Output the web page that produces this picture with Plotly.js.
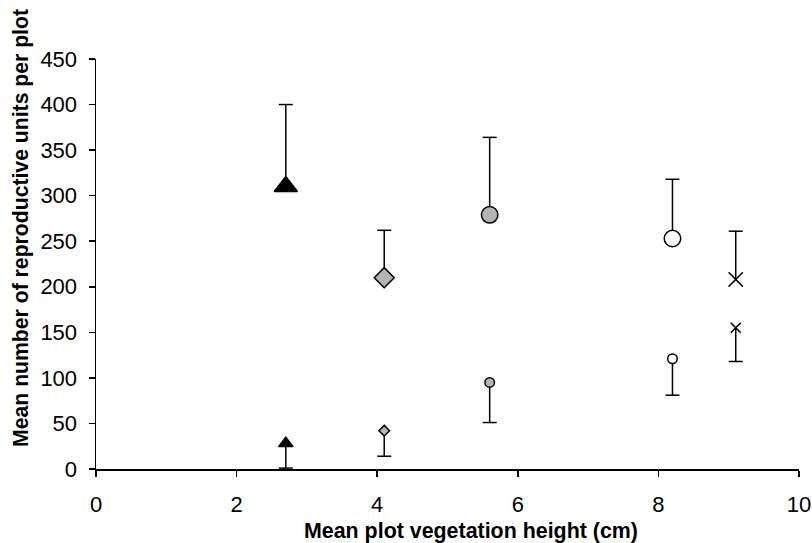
<!DOCTYPE html>
<html>
<head>
<meta charset="utf-8">
<script src="https://cdn.plot.ly/plotly-3.0.1.min.js"></script>
<style>html,body{margin:0;padding:0;background:#fff;}#chart{width:812px;height:543px;}</style>
</head>
<body>
<div id="chart"></div>
<script>
// Mean plot vegetation height (cm) for the five plot types
var heights = [2.7, 4.1, 5.6, 8.2, 9.1];
// Large markers (upper group): means and upper error
var upperMeans = [310, 210, 279, 253, 208];
var upperErr = [90, 52, 85, 65, 53];
// Small markers (lower group): means and lower error
var lowerMeans = [28, 42, 95, 121, 155];
var lowerErr = [27, 28, 44, 40, 37];
// x tick labels / y tick labels
var xTicks = [0, 2, 4, 6, 8, 10];
var yTicks = [0, 50, 100, 150, 200, 250, 300, 350, 400, 450];

var symbols = ['triangle-up', 'diamond', 'circle', 'circle', 'x-thin-open'];
var gray = '#b4b4b6';
var fills = ['#000000', gray, gray, '#ffffff', '#000000'];
var bigSizes = [20, 15.4, 16.5, 16.5, 14.3];
var smallSizes = [12.5, 8.2, 9.5, 9.5, 10];

var upperCaps = upperMeans.map(function (v, i) { return v + upperErr[i]; });
var lowerCaps = lowerMeans.map(function (v, i) { return v - lowerErr[i]; });

var barStyle = {type: 'data', symmetric: false, width: 0, thickness: 1.5, color: '#000'};

var traces = [
  {
    x: heights, y: upperMeans, type: 'scatter', mode: 'markers', name: 'upper',
    error_y: Object.assign({}, barStyle, {array: upperErr, arrayminus: heights.map(function () { return 0; })}),
    marker: {symbol: symbols, color: fills, size: bigSizes, opacity: 1, line: {color: '#000', width: 1.5}},
    cliponaxis: false, hoverinfo: 'x+y'
  },
  {
    x: heights, y: lowerMeans, type: 'scatter', mode: 'markers', name: 'lower',
    error_y: Object.assign({}, barStyle, {array: heights.map(function () { return 0; }), arrayminus: lowerErr}),
    marker: {symbol: symbols, color: fills, size: smallSizes, opacity: 1, line: {color: '#000', width: 1.5}},
    cliponaxis: false, hoverinfo: 'x+y'
  },
  {
    x: heights.concat(heights), y: upperCaps.concat(lowerCaps), type: 'scatter', mode: 'markers',
    name: 'caps', hoverinfo: 'skip', cliponaxis: false,
    marker: {symbol: 'line-ew-open', size: 10, opacity: 1, color: '#000', line: {color: '#000', width: 1.5}}
  }
];

var font = 'Liberation Sans, Arial, Helvetica, sans-serif';
var layout = {
  width: 812, height: 543,
  margin: {l: 96, r: 13, t: 59, b: 74, pad: 0},
  paper_bgcolor: '#fff', plot_bgcolor: '#fff',
  showlegend: false,
  font: {family: font, size: 22, color: '#000'},
  xaxis: {
    range: [0, 10], tickvals: xTicks, ticktext: xTicks.map(String),
    ticks: 'outside', ticklen: 6, tickwidth: 1.5, tickcolor: '#000',
    showline: true, linecolor: '#000', linewidth: 1.5,
    showgrid: false, zeroline: false, ticklabelstandoff: 9,
    tickfont: {family: font, size: 22, color: '#000'}
  },
  yaxis: {
    range: [0, 450], tickvals: yTicks, ticktext: yTicks.map(String),
    ticks: 'outside', ticklen: 6, tickwidth: 1.5, tickcolor: '#000',
    showline: true, linecolor: '#000', linewidth: 1.5,
    showgrid: false, zeroline: false, ticklabelstandoff: 7,
    tickfont: {family: font, size: 22, color: '#000'}
  },
  annotations: [
    {text: '<b>Mean plot vegetation height (cm)</b>', xref: 'paper', yref: 'paper',
     x: 0.5334, y: -0.152, xanchor: 'center', yanchor: 'middle', showarrow: false,
     font: {family: font, size: 21.4, color: '#000'}},
    {text: '<b>Mean number of reproductive units per plot</b>', xref: 'paper', yref: 'paper',
     x: -0.1067, y: 0.588, xanchor: 'center', yanchor: 'middle', showarrow: false, textangle: -90,
     font: {family: font, size: 21.2, color: '#000'}}
  ]
};

Plotly.newPlot('chart', traces, layout, {displayModeBar: false, staticPlot: true});
</script>
</body>
</html>
